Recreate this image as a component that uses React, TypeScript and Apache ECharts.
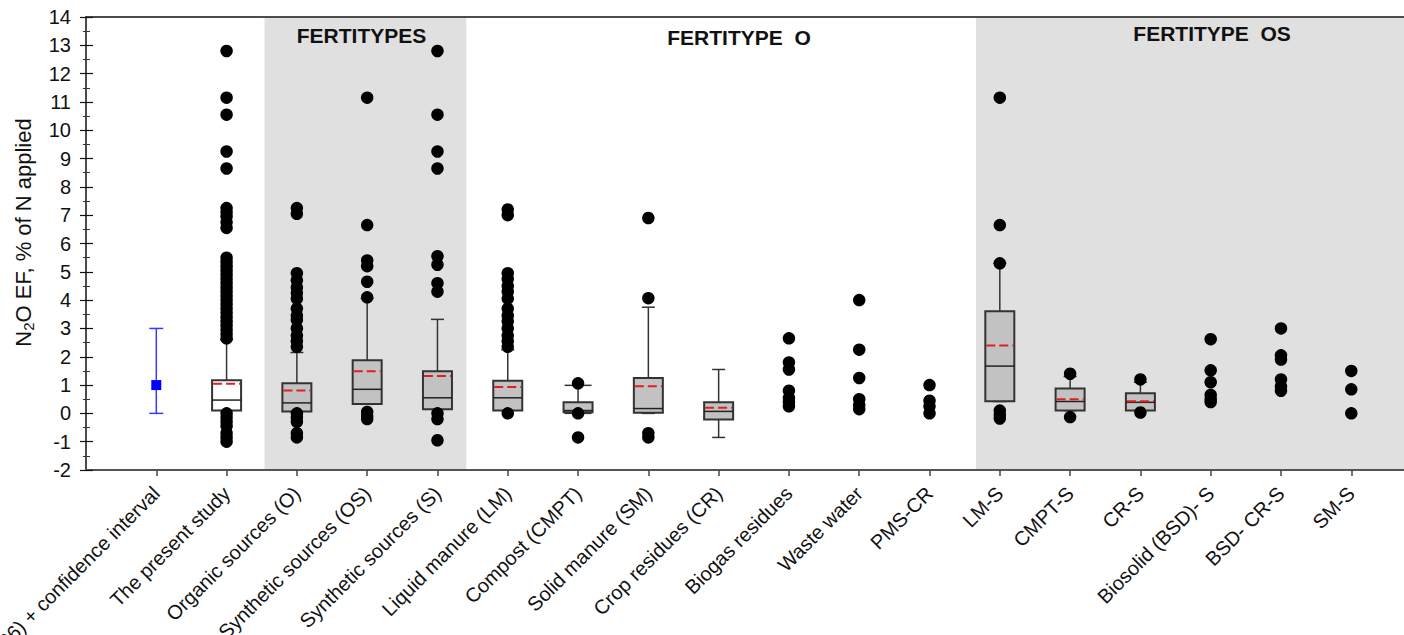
import React, { useEffect, useRef } from "react";
import * as echarts from "echarts";

const categories = [
  "IPCC (2006) + confidence interval",
  "The present study",
  "Organic sources (O)",
  "Organic + Synthetic sources (OS)",
  "Synthetic sources (S)",
  "Liquid manure (LM)",
  "Compost (CMPT)",
  "Solid manure (SM)",
  "Crop residues (CR)",
  "Biogas residues",
  "Waste water",
  "PMS-CR",
  "LM-S",
  "CMPT-S",
  "CR-S",
  "Biosolid (BSD)- S",
  "BSD- CR-S",
  "SM-S",
];

// IPCC default + confidence interval
const ipccCategory = 0;
const ipccLow = 0.0;
const ipccValue = 1.0;
const ipccHigh = 3.0;

// Box plot statistics
const boxCategory = [1, 2, 3, 4, 5, 6, 7, 8, 12, 13, 14];
const whiskerLow = [0.1, 0.07, 0.32, 0.14, 0.1, 0.0, 0.0, -0.85, 0.42, 0.1, 0.1];
const q1 = [0.1, 0.07, 0.33, 0.15, 0.1, 0.04, 0.02, -0.22, 0.43, 0.1, 0.1];
const median = [0.47, 0.37, 0.85, 0.55, 0.55, 0.1, 0.17, 0.07, 1.67, 0.42, 0.39];
const q3 = [1.17, 1.06, 1.88, 1.49, 1.15, 0.39, 1.25, 0.39, 3.61, 0.88, 0.71];
const whiskerHigh = [2.6, 2.15, 4.06, 3.32, 2.25, 0.99, 3.75, 1.55, 5.3, 1.3, 1.1];
const means = [1.05, 0.81, 1.49, 1.32, 0.93, null, 0.96, 0.2, 2.4, 0.5, 0.43];
const whiteBox = [1, 0, 0, 0, 0, 0, 0, 0, 0, 0, 0];
const capWidth = [13, 13, 13, 13, 13, 27, 13, 13, 13, 13, 13];

// Outliers per category (index = category)
const outliers: number[][] = [
  [],
  [2.65, 2.8, 2.95, 3.1, 3.25, 3.4, 3.55, 3.7, 3.85, 4.0, 4.15, 4.3, 4.45, 4.6, 4.75, 4.9, 5.05, 5.2, 5.35, 5.5,
    6.55, 6.75, 6.95, 7.1, 7.25, 8.65, 9.25, 10.55, 11.15, 12.8,
    0.0, -0.15, -0.3, -0.45, -0.7, -0.85, -1.0],
  [2.35, 2.55, 2.75, 3.0, 3.3, 3.45, 3.7, 4.05, 4.25, 4.45, 4.7, 4.95, 7.05, 7.25,
    0.0, -0.15, -0.3, -0.7, -0.85],
  [4.1, 4.65, 5.2, 5.4, 6.65, 11.15, 0.05, -0.1, -0.2],
  [4.3, 4.6, 5.25, 5.55, 8.65, 9.25, 10.55, 12.8, 0.0, -0.2, -0.95],
  [2.35, 2.55, 2.75, 3.0, 3.25, 3.45, 3.7, 4.05, 4.3, 4.5, 4.75, 4.95, 7.0, 7.2, 0.0],
  [1.06, 0.0, -0.85],
  [4.07, 6.9, -0.7, -0.85],
  [],
  [2.65, 1.8, 1.55, 0.8, 0.55, 0.4, 0.25],
  [4.0, 2.25, 1.25, 0.5, 0.3, 0.15],
  [1.0, 0.45, 0.25, 0.0],
  [5.3, 6.65, 11.15, 0.1, -0.05, -0.18],
  [1.4, -0.13],
  [1.2, 0.03],
  [2.62, 1.52, 1.1, 0.65, 0.5, 0.4],
  [3.0, 2.05, 1.9, 1.2, 0.95, 0.8],
  [1.5, 0.85, 0.0],
];

// Shaded group spans (x in category units)
const shadeStart = [1.54, 11.66];
const shadeEnd = [4.41, 17.8];

const sectionTitles = ["FERTITYPES", "FERTITYPE  O", "FERTITYPE  OS"];
const sectionX = [2.92, 8.29, 15.02];
const sectionY = [13.33, 13.29, 13.43];

const yTicks = { min: -2, max: 14, interval: 1 };
const xRange = { min: -1, max: 17.75 };

const FONT = "'Liberation Sans', Arial, Helvetica, sans-serif";

export default function App() {
  const ref = useRef<HTMLDivElement>(null);

  useEffect(() => {
    if (!ref.current) return;
    const chart = echarts.init(ref.current, undefined, { renderer: "svg" });

    const boxData = boxCategory.map((c, i) => [
      c,
      whiskerLow[i],
      q1[i],
      median[i],
      q3[i],
      whiskerHigh[i],
      means[i] === null ? NaN : means[i],
      whiteBox[i],
      capWidth[i],
    ]);

    const scatterData: number[][] = [];
    outliers.forEach((vals, c) => vals.forEach((v) => scatterData.push([c, v])));

    const shadeData = shadeStart.map((s, i) => [s, shadeEnd[i]]);
    const titleData = sectionTitles.map((t, i) => [sectionX[i], sectionY[i], i]);

    const option: any = {
      animation: false,
      backgroundColor: "#ffffff",
      grid: {
        left: 86,
        top: 17,
        width: 1318,
        height: 453,
        containLabel: false,
        outerBoundsMode: "none",
      },
      xAxis: [
        {
          type: "value",
          min: xRange.min,
          max: xRange.max,
          interval: 1,
          position: "bottom",
          axisLine: { show: true, onZero: false, lineStyle: { color: "#555", width: 2 } },
          axisTick: { show: true, length: 6, lineStyle: { color: "#444", width: 1.5 } },
          splitLine: { show: false },
          axisLabel: {
            rotate: 45,
            margin: 20,
            fontSize: 20,
            fontFamily: FONT,
            color: "#111",
            showMinLabel: false,
            showMaxLabel: false,
            formatter: (v: number) =>
              Number.isInteger(v) && v >= 0 && v < categories.length ? categories[v] : "",
          },
        },
        {
          type: "value",
          min: xRange.min,
          max: xRange.max,
          position: "top",
          axisLine: { show: true, onZero: false, lineStyle: { color: "#111", width: 1.5 } },
          axisTick: { show: false },
          axisLabel: { show: false },
          splitLine: { show: false },
        },
      ],
      yAxis: [
        {
          type: "value",
          min: yTicks.min,
          max: yTicks.max,
          interval: yTicks.interval,
          position: "left",
          axisLine: { show: true, onZero: false, lineStyle: { color: "#111", width: 1.5 } },
          axisTick: { show: true, length: 6, lineStyle: { color: "#111", width: 1.2 } },
          minorTick: { show: true, splitNumber: 2, length: 3, lineStyle: { color: "#333", width: 1 } },
          splitLine: { show: false },
          axisLabel: { margin: 15, fontSize: 20, fontFamily: FONT, color: "#111" },
          name: "{a|N}{s|2}{a|O EF, % of N applied}",
          nameLocation: "middle",
          nameGap: 50,
          nameRotate: 90,
          nameTextStyle: {
            padding: [0, 0, 0, 22],
            rich: {
              a: { fontSize: 22, fontFamily: FONT, color: "#111", lineHeight: 26, verticalAlign: "middle" },
              s: { fontSize: 15, fontFamily: FONT, color: "#111", lineHeight: 15, verticalAlign: "bottom" },
            },
          },
        },
        {
          type: "value",
          min: yTicks.min,
          max: yTicks.max,
          interval: yTicks.interval,
          position: "left",
          axisLine: { show: false, onZero: false },
          axisTick: { show: true, inside: true, length: 7, lineStyle: { color: "#111", width: 1.2 } },
          minorTick: { show: true, splitNumber: 2, length: 4, lineStyle: { color: "#333", width: 1 } },
          splitLine: { show: false },
          axisLabel: { show: false },
        },
      ],
      series: [
        {
          type: "custom",
          name: "shade",
          z: 0,
          silent: true,
          data: shadeData,
          renderItem: (params: any, api: any) => {
            const p0 = api.coord([api.value(0), yTicks.max]);
            const p1 = api.coord([api.value(1), yTicks.min]);
            return {
              type: "rect",
              shape: { x: p0[0], y: p0[1] + 1, width: p1[0] - p0[0], height: p1[1] - p0[1] - 2 },
              style: { fill: "#e0e0e0" },
            };
          },
        },
        {
          type: "custom",
          name: "titles",
          z: 1,
          silent: true,
          data: titleData,
          renderItem: (params: any, api: any) => {
            const p = api.coord([api.value(0), api.value(1)]);
            return {
              type: "text",
              x: p[0],
              y: p[1],
              style: {
                text: sectionTitles[api.value(2)],
                fontSize: 21,
                fontWeight: "bold",
                fontFamily: FONT,
                fill: "#111",
                align: "center",
                verticalAlign: "middle",
              },
            };
          },
        },
        {
          type: "custom",
          name: "IPCC",
          z: 3,
          data: [[ipccCategory, ipccLow, ipccValue, ipccHigh]],
          renderItem: (params: any, api: any) => {
            const x = api.value(0);
            const lo = api.coord([x, api.value(1)]);
            const mid = api.coord([x, api.value(2)]);
            const hi = api.coord([x, api.value(3)]);
            const cw = 7;
            const ls = { stroke: "#3a3aff", lineWidth: 1.5 };
            return {
              type: "group",
              children: [
                { type: "line", shape: { x1: lo[0], y1: lo[1], x2: hi[0], y2: hi[1] }, style: ls },
                { type: "line", shape: { x1: hi[0] - cw, y1: hi[1], x2: hi[0] + cw, y2: hi[1] }, style: ls },
                { type: "line", shape: { x1: lo[0] - cw, y1: lo[1], x2: lo[0] + cw, y2: lo[1] }, style: ls },
                { type: "rect", shape: { x: mid[0] - 5, y: mid[1] - 5, width: 10, height: 10 }, style: { fill: "#0000ff" } },
              ],
            };
          },
        },
        {
          type: "custom",
          name: "boxes",
          z: 3,
          data: boxData,
          renderItem: (params: any, api: any) => {
            const x = api.value(0);
            const c = (v: number) => api.coord([x, v]);
            const pLw = c(api.value(1));
            const pQ1 = c(api.value(2));
            const pMed = c(api.value(3));
            const pQ3 = c(api.value(4));
            const pUw = c(api.value(5));
            const mean = api.value(6);
            const white = api.value(7) === 1;
            const cw = api.value(8) / 2;
            const hw = 14.5;
            const cx = pQ1[0];
            const wl = { stroke: "#333", lineWidth: 1.5 };
            const children: any[] = [
              { type: "line", shape: { x1: cx, y1: pQ3[1], x2: cx, y2: pUw[1] }, style: wl },
              { type: "line", shape: { x1: cx - cw, y1: pUw[1], x2: cx + cw, y2: pUw[1] }, style: wl },
              { type: "line", shape: { x1: cx, y1: pQ1[1], x2: cx, y2: pLw[1] }, style: wl },
              { type: "line", shape: { x1: cx - cw, y1: pLw[1], x2: cx + cw, y2: pLw[1] }, style: wl },
              {
                type: "rect",
                shape: { x: cx - hw, y: pQ3[1], width: hw * 2, height: pQ1[1] - pQ3[1] },
                style: { fill: white ? "#ffffff" : "#c2c2c2", stroke: "#333", lineWidth: 2 },
              },
              { type: "line", shape: { x1: cx - hw, y1: pMed[1], x2: cx + hw, y2: pMed[1] }, style: { stroke: "#222", lineWidth: 1.5 } },
            ];
            if (Number.isFinite(mean)) {
              const pm = c(mean);
              children.push({
                type: "line",
                shape: { x1: cx - hw + 1, y1: pm[1], x2: cx + hw - 1, y2: pm[1] },
                style: { stroke: "#e02020", lineWidth: 2, lineDash: [9, 4] },
              });
            }
            return { type: "group", children };
          },
        },
        {
          type: "scatter",
          name: "outliers",
          z: 4,
          symbol: "circle",
          symbolSize: 12.5,
          itemStyle: { color: "#000000", opacity: 1 },
          data: scatterData,
        },
      ],
    };

    chart.setOption(option);
    return () => chart.dispose();
  }, []);

  return (
    <div
      ref={ref}
      style={{ position: "fixed", left: 0, top: 0, width: 1404, height: 635, background: "#fff" }}
    />
  );
}
